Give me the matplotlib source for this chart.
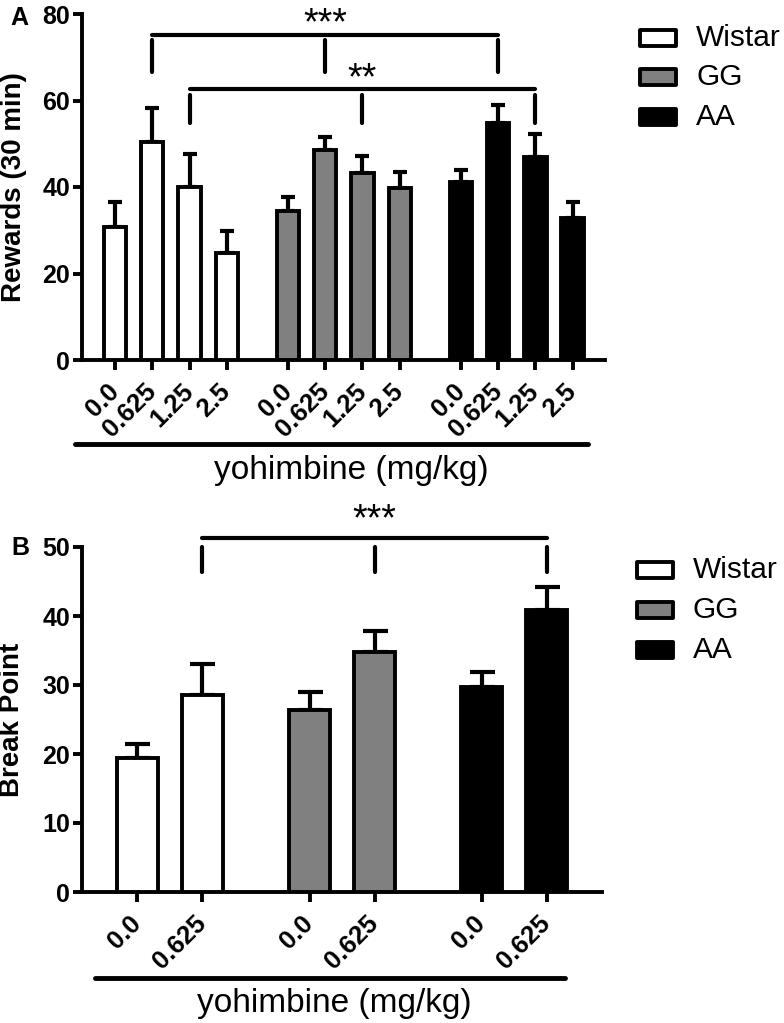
import numpy as np
import matplotlib
matplotlib.use('Agg')
import matplotlib.pyplot as plt
from matplotlib.patches import Rectangle

plt.rcParams['font.family'] = ['Liberation Sans', 'DejaVu Sans']

# groups shared by both panels
groups = ['Wistar', 'GG', 'AA']
colors = ['white', '#808080', 'black']

# panel A: rewards (30 min)
doses_a = ['0.0', '0.625', '1.25', '2.5']
rewards_wistar = [30.8, 50.4, 40.1, 24.8]
rewards_wistar_sem = [5.7, 7.9, 7.5, 5.0]
rewards_gg = [34.5, 48.6, 43.2, 39.7]
rewards_gg_sem = [3.3, 3.0, 4.0, 3.7]
rewards_aa = [41.1, 54.8, 46.9, 32.8]
rewards_aa_sem = [2.9, 4.2, 5.3, 3.8]

# panel B: break point
doses_b = ['0.0', '0.625']
bp_wistar = [19.4, 28.6]
bp_wistar_sem = [2.0, 4.4]
bp_gg = [26.4, 34.8]
bp_gg_sem = [2.6, 3.0]
bp_aa = [29.7, 40.9]
bp_aa_sem = [2.2, 3.3]

W, H = 784, 1023
fig = plt.figure(figsize=(W / 100, H / 100), dpi=100)

LW = 2.8


def px_box(left, top, right, bottom):
    # pixel box -> figure fraction [l, b, w, h]
    return [left / W, 1 - bottom / H, (right - left) / W, (bottom - top) / H]


def draw_panel(ax, means, sems, doses, step, width, capsize, ymax, ystep, ylabel, xlim):
    positions = []
    for g, (m, s) in enumerate(zip(means, sems)):
        xs = np.arange(len(m)) + g * step
        ax.bar(xs, m, width=width, color=colors[g], edgecolor='black',
               linewidth=LW, zorder=3)
        ax.errorbar(xs, m, yerr=[np.zeros(len(s)), s], fmt='none', ecolor='black',
                    elinewidth=3, capsize=capsize, capthick=3, zorder=2)
        positions.extend(xs)
    ax.set_xlim(*xlim)
    ax.set_ylim(0, ymax)
    ax.set_yticks(np.arange(0, ymax + 1, ystep))
    ax.set_xticks(positions)
    ax.set_xticklabels(doses * len(groups), rotation=45, ha='right', va='center',
                       rotation_mode='anchor', fontsize=18.5, fontweight='bold')
    for lab in ax.get_yticklabels():
        lab.set_fontsize(18)
        lab.set_fontweight('bold')
    ax.spines['top'].set_visible(False)
    ax.spines['right'].set_visible(False)
    ax.spines['left'].set_linewidth(LW)
    ax.spines['bottom'].set_linewidth(LW)
    ax.tick_params(axis='y', length=6.5, width=LW, pad=2)
    ax.tick_params(axis='x', length=7, width=LW, pad=13)
    ax.set_ylabel(ylabel, fontsize=20, fontweight='bold')
    return positions


def bracket(ax, xs, y_line, y_top, y_bot, stars, sx, sy):
    ax.plot([xs[0], xs[-1]], [y_line, y_line], color='black', lw=3,
            solid_capstyle='round', clip_on=False, zorder=4)
    for x in xs:
        ax.plot([x, x], [y_top, y_bot], color='black', lw=3,
                solid_capstyle='round', clip_on=False, zorder=4)
    ax.text(sx, sy, stars, ha='center', va='center', fontsize=27, clip_on=False)


def legend(x0, rows):
    for yc, name, c in zip(rows, groups, colors):
        fig.add_artist(Rectangle(((x0 + 2) / W, 1 - (yc + 8) / H), 36 / W, 16 / H,
                                 transform=fig.transFigure, facecolor=c,
                                 edgecolor='black', linewidth=LW, joinstyle='round'))
        fig.text((x0 + 58) / W, 1 - yc / H, name, fontsize=21.5, va='center', ha='left')


def dose_axis(ax, x0, x1, y, tx, ty):
    ax.plot([x0, x1], [y, y], color='black', lw=3.5, solid_capstyle='round',
            transform=ax.transAxes, clip_on=False)
    ax.text(tx, ty, 'yohimbine (mg/kg)', transform=ax.transAxes, ha='center',
            va='center', fontsize=24)


# ---- panel A
ax_a = fig.add_axes(px_box(82, 14, 605, 360))
pos_a = draw_panel(ax_a, [rewards_wistar, rewards_gg, rewards_aa],
                   [rewards_wistar_sem, rewards_gg_sem, rewards_aa_sem],
                   doses_a, 4.65, 0.6, 5, 80, 20, 'Rewards (30 min)', (-0.89, 13.17))
ax_a.yaxis.set_label_coords(-0.105, 0.5)
bracket(ax_a, [pos_a[1], pos_a[5], pos_a[9]], 75.1, 73.9, 66.6, '***', pos_a[5], 77.6)
bracket(ax_a, [pos_a[2], pos_a[6], pos_a[10]], 62.7, 61.3, 54.8, '**', pos_a[6], 64.8)
dose_axis(ax_a, -0.013, 0.967, -0.243, 0.514, -0.318)
fig.text(19 / W, 1 - 18 / H, 'A', fontsize=18, fontweight='bold', ha='center', va='center')
legend(638, [38, 77, 117])

# ---- panel B
ax_b = fig.add_axes(px_box(82, 547, 602, 892))
pos_b = draw_panel(ax_b, [bp_wistar, bp_gg, bp_aa],
                   [bp_wistar_sem, bp_gg_sem, bp_aa_sem],
                   doses_b, 2.65, 0.63, 9, 50, 10, 'Break Point', (-0.85, 7.15))
ax_b.yaxis.set_label_coords(-0.11, 0.5)
bracket(ax_b, [pos_b[1], pos_b[3], pos_b[5]], 51.3, 50.0, 46.4, '***', pos_b[3], 53.8)
dose_axis(ax_b, 0.025, 0.929, -0.249, 0.485, -0.322)
fig.text(20 / W, 1 - 548 / H, 'B', fontsize=18, fontweight='bold', ha='center', va='center')
legend(635, [570, 610, 650])

fig.savefig('out.png', dpi=100)
